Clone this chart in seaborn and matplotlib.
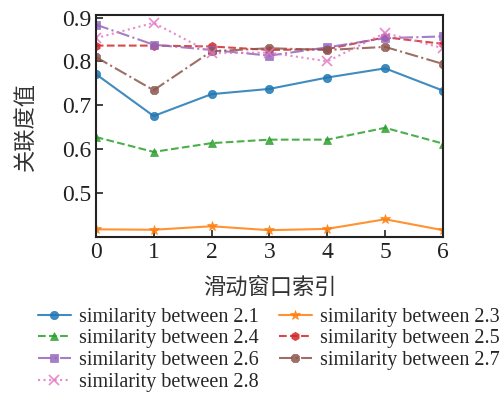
import matplotlib
matplotlib.use("Agg")
import matplotlib.pyplot as plt
import seaborn as sns
import pandas as pd

# sliding window index
windows = [0, 1, 2, 3, 4, 5, 6]

# similarity values
sim_21 = [0.771, 0.675, 0.725, 0.737, 0.763, 0.784, 0.733]
sim_23 = [0.416, 0.415, 0.423, 0.414, 0.417, 0.439, 0.414]
sim_24 = [0.627, 0.593, 0.613, 0.621, 0.621, 0.648, 0.612]
sim_25 = [0.836, 0.836, 0.834, 0.826, 0.828, 0.855, 0.840]
sim_26 = [0.884, 0.838, 0.826, 0.813, 0.832, 0.853, 0.857]
sim_27 = [0.810, 0.734, 0.823, 0.830, 0.826, 0.833, 0.794]
sim_28 = [0.853, 0.888, 0.819, 0.820, 0.800, 0.865, 0.830]

labels = ["similarity between 2.1", "similarity between 2.3", "similarity between 2.4",
          "similarity between 2.5", "similarity between 2.6", "similarity between 2.7",
          "similarity between 2.8"]
series = [sim_21, sim_23, sim_24, sim_25, sim_26, sim_27, sim_28]
markers = ["o", "*", "^", "h", "s", "8", "x"]
styles = ["-", "-", "--", "--", "-.", "-.", ":"]

sns.set_theme(style="ticks")
plt.rcParams["font.family"] = ["Liberation Serif", "Noto Sans CJK SC"]
palette = sns.color_palette("tab10", 7)

fig = plt.figure(figsize=(5.04, 3.94), dpi=100)
ax = fig.add_axes([0.19, 0.398, 0.689, 0.564])

handles = {}
for i in range(len(series)):
    df = pd.DataFrame({"window": windows, "value": series[i]})
    sns.lineplot(data=df, x="window", y="value", ax=ax, color=palette[i],
                 marker=markers[i], linestyle=styles[i], linewidth=1.5,
                 markersize=7 if markers[i] in ["*", "x"] else 6,
                 markeredgecolor=palette[i],
                 markeredgewidth=1.2 if markers[i] == "x" else 0.5,
                 alpha=0.85, label=labels[i])
    handles[labels[i]] = ax.lines[-1]

ax.get_legend().remove()
ax.set_xlim(0, 6)
ax.set_ylim(0.398, 0.906)
ax.set_xticks(windows)
ax.set_yticks([0.5, 0.6, 0.7, 0.8, 0.9])
ax.tick_params(direction="in", labelsize=17, length=5, width=1.2, colors="#222222")
for s in ax.spines.values():
    s.set_linewidth(1.5)
    s.set_color("#222222")
ax.set_xlabel("滑动窗口索引", fontsize=16, family="Noto Sans CJK SC", color="#333333", labelpad=9)
ax.set_ylabel("关联度值", fontsize=16, family="Noto Sans CJK SC", color="#333333", labelpad=17)

order = [0, 2, 4, 6, 1, 3, 5]
fig.legend([handles[labels[k]] for k in order], [labels[k] for k in order],
           loc="upper center", bbox_to_anchor=(0.533, 0.25), ncol=2, frameon=False,
           fontsize=14.5, handlelength=1.65, labelspacing=0.13, columnspacing=1.0,
           handletextpad=0.4, borderpad=0.1)

fig.savefig("out.png", dpi=100)
